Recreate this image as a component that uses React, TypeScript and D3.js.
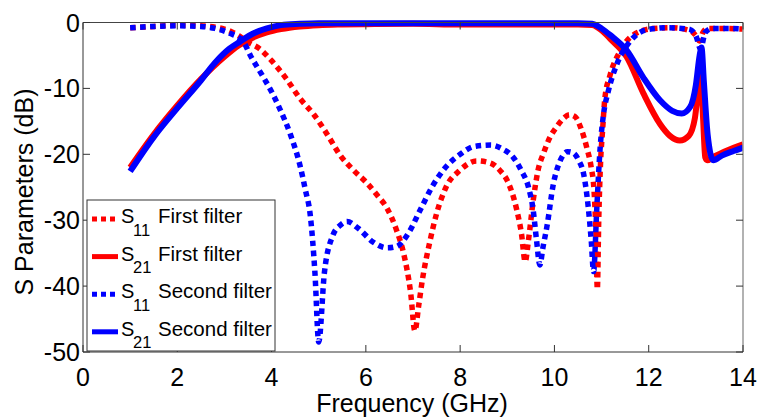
import React from "react";
import * as d3 from "d3";

// frequency (GHz) / dB values
const s11FirstX = [1, 1.5, 2, 2.5, 3, 3.3, 3.5, 3.75, 4.0, 4.3, 4.6, 4.9, 5.2, 5.45, 5.75, 6.0, 6.25, 6.45, 6.65, 6.8, 6.95, 7.04, 7.12, 7.2, 7.35, 7.5, 7.7, 8.0, 8.35, 8.63, 8.85, 9.0, 9.2, 9.3, 9.38, 9.45, 9.55, 9.65, 9.77, 9.9, 10.05, 10.2, 10.32, 10.44, 10.56, 10.69, 10.78, 10.84, 10.88, 10.91, 10.94, 10.98, 11.02, 11.07, 11.18, 11.39, 11.67, 12.1, 12.5, 12.9, 13.0, 13.08, 13.15, 13.25, 13.5, 14];
const s11FirstY = [-0.8, -0.6, -0.4, -0.5, -1.0, -2.0, -3.0, -4.0, -5.8, -8.4, -11.5, -14, -17.2, -20.1, -22.5, -24.2, -26.3, -28.2, -31.5, -35, -41, -46.8, -43, -39, -33.5, -29, -25, -22.4, -21, -21.3, -22.5, -24, -28.4, -32, -36.3, -33, -27, -22.5, -19.8, -17.5, -15.8, -14.5, -14, -14.3, -16, -19.1, -22, -25.5, -32, -40.5, -30, -21, -16.5, -11.5, -8, -4.4, -1.9, -0.9, -0.8, -1.3, -2, -2.8, -1.5, -0.9, -0.9, -1.0];

const s21FirstX = [1, 1.5, 2, 2.5, 3, 3.3, 3.6, 3.9, 4.2, 4.6, 5, 5.5, 6, 7, 8, 9, 10, 10.5, 10.8, 11.0, 11.2, 11.53, 11.89, 12.24, 12.45, 12.66, 12.85, 12.98, 13.05, 13.1, 13.15, 13.2, 13.24, 13.4, 13.6, 13.8, 14];
const s21FirstY = [-22, -17, -12.6, -8.6, -5.2, -3.5, -2.3, -1.5, -1.0, -0.6, -0.4, -0.3, -0.25, -0.2, -0.3, -0.3, -0.3, -0.3, -0.4, -1.2, -2.6, -5.2, -10.8, -15.4, -17.2, -17.9, -17.2, -14.5, -10, -7, -14, -20.5, -20.9, -20.3, -19.6, -19, -18.5];

const s11SecondX = [1, 1.5, 2, 2.5, 2.8, 3.1, 3.4, 3.55, 3.8, 4.0, 4.2, 4.4, 4.6, 4.72, 4.82, 4.92, 5.0, 5.12, 5.3, 5.45, 5.6, 5.85, 6.15, 6.45, 6.65, 6.9, 7.15, 7.4, 7.7, 8.0, 8.3, 8.65, 8.9, 9.12, 9.3, 9.45, 9.55, 9.62, 9.69, 9.76, 9.84, 9.98, 10.12, 10.28, 10.4, 10.52, 10.62, 10.72, 10.78, 10.83, 10.9, 10.97, 11.04, 11.14, 11.32, 11.6, 11.96, 12.4, 12.85, 13.0, 13.1, 13.2, 13.35, 13.7, 14];
const s11SecondY = [-0.8, -0.6, -0.5, -0.6, -0.9, -1.6, -2.9, -5.0, -8, -10.5, -13.5, -17, -21.6, -25.5, -29.2, -38, -48.5, -38, -32.3, -30.8, -30.2, -31.3, -33.3, -34.2, -34, -32, -28.5, -25, -21.9, -20, -18.8, -18.6, -19.2, -20.4, -22.5, -25, -28.5, -33, -36.8, -34, -31, -24.4, -21, -19.6, -19.8, -21, -23, -28.2, -33, -37.8, -28, -19, -14, -10.5, -6.4, -2.9, -1.1, -0.8, -1.0, -2, -4, -1.5, -0.9, -0.9, -1.0];

const s21SecondX = [1, 1.5, 2, 2.5, 2.8, 3.1, 3.33, 3.6, 3.9, 4.2, 4.6, 5, 6, 7, 8, 9, 10, 10.5, 10.8, 11.0, 11.2, 11.53, 11.89, 12.24, 12.5, 12.7, 12.88, 13.0, 13.08, 13.12, 13.17, 13.25, 13.37, 13.55, 13.8, 14];
const s21SecondY = [-22.6, -17.4, -13.0, -8.8, -6.1, -4.0, -2.9, -1.7, -0.9, -0.4, -0.2, -0.1, -0.1, -0.1, -0.1, -0.1, -0.1, -0.1, -0.2, -0.9, -2.0, -4.2, -8.4, -11.8, -13.4, -13.8, -12.8, -9.5, -5, -3.8, -9, -17, -20.9, -20.2, -19.5, -19];

const xTicks = [0, 2, 4, 6, 8, 10, 12, 14];
const yTicks = [-50, -40, -30, -20, -10, 0];

const series = [
  { label: "First filter", sub: "11", xs: s11FirstX, ys: s11FirstY, color: "#ff0000", dotted: true },
  { label: "First filter", sub: "21", xs: s21FirstX, ys: s21FirstY, color: "#ff0000", dotted: false },
  { label: "Second filter", sub: "11", xs: s11SecondX, ys: s11SecondY, color: "#0000ff", dotted: true },
  { label: "Second filter", sub: "21", xs: s21SecondX, ys: s21SecondY, color: "#0000ff", dotted: false },
];

const W = 763, H = 419;
const margin = { left: 83, right: 20, top: 22.5, bottom: 67 };
const font = "'Liberation Sans', Arial, sans-serif";

const App = () => {
  const ref = React.useRef<SVGSVGElement>(null);

  React.useEffect(() => {
    const svg = d3.select(ref.current);
    svg.selectAll("*").remove();
    const x0 = margin.left, x1 = W - margin.right, y0 = margin.top, y1 = H - margin.bottom;
    const xScale = d3.scaleLinear([0, 14], [x0, x1]);
    const yScale = d3.scaleLinear([-50, 0], [y1, y0]);

    svg.append("rect").attr("width", W).attr("height", H).attr("fill", "#fff");

    svg.append("defs").append("clipPath").attr("id", "plotclip")
      .append("rect").attr("x", x0).attr("y", y0 - 3).attr("width", x1 - x0).attr("height", y1 - y0 + 3);

    const line = d3.line<[number, number]>()
      .x(d => xScale(d[0]))
      .y(d => yScale(d[1]))
      .curve(d3.curveMonotoneX);

    const g = svg.append("g").attr("clip-path", "url(#plotclip)");
    series.forEach(s => {
      g.append("path")
        .attr("d", line(s.xs.map((v, i) => [v, s.ys[i]] as [number, number])))
        .attr("fill", "none")
        .attr("stroke", s.color)
        .attr("stroke-width", s.dotted ? 5.5 : 6)
        .attr("stroke-dasharray", s.dotted ? "5.5,4.5" : null)
        .attr("stroke-linejoin", "round");
    });

    // box
    const tick = 7;
    svg.append("line").attr("x1", x0).attr("x2", x1).attr("y1", y0).attr("y2", y0).attr("stroke", "#444");
    svg.append("line").attr("x1", x1).attr("x2", x1).attr("y1", y0).attr("y2", y1).attr("stroke", "#999").attr("stroke-width", 1.5);
    svg.append("line").attr("x1", x0).attr("x2", x0).attr("y1", y0).attr("y2", y1).attr("stroke", "#333");
    svg.append("line").attr("x1", x0).attr("x2", x1).attr("y1", y1).attr("y2", y1).attr("stroke", "#333");

    xTicks.forEach(t => {
      const px = xScale(t);
      svg.append("line").attr("x1", px).attr("x2", px).attr("y1", y1).attr("y2", y1 - tick).attr("stroke", "#333");
      svg.append("line").attr("x1", px).attr("x2", px).attr("y1", y0).attr("y2", y0 + tick).attr("stroke", "#333");
      svg.append("text").attr("x", px).attr("y", 386).attr("text-anchor", "middle")
        .attr("font-family", font).attr("font-size", 25).text(t);
    });
    yTicks.forEach(t => {
      const py = yScale(t);
      svg.append("line").attr("x1", x0).attr("x2", x0 + tick).attr("y1", py).attr("y2", py).attr("stroke", "#333");
      svg.append("line").attr("x1", x1).attr("x2", x1 - tick).attr("y1", py).attr("y2", py).attr("stroke", "#333");
      svg.append("text").attr("x", 80).attr("y", py + 9).attr("text-anchor", "end")
        .attr("font-family", font).attr("font-size", 25).text(t);
    });

    svg.append("text").attr("x", 412).attr("y", 412).attr("text-anchor", "middle")
      .attr("font-family", font).attr("font-size", 25).text("Frequency (GHz)");
    svg.append("text").attr("transform", "translate(33,192) rotate(-90)").attr("text-anchor", "middle")
      .attr("font-family", font).attr("font-size", 25).text("S Parameters (dB)");

    // legend
    const lg = svg.append("g");
    lg.append("rect").attr("x", 87).attr("y", 200).attr("width", 188).attr("height", 151)
      .attr("fill", "#fff").attr("stroke", "#333");
    series.forEach((s, i) => {
      const ly = 219 + i * 37.6;
      lg.append("line").attr("x1", 92).attr("x2", 118).attr("y1", ly).attr("y2", ly)
        .attr("stroke", s.color).attr("stroke-width", 5)
        .attr("stroke-dasharray", s.dotted ? "5,4" : null);
      lg.append("text").attr("x", 121).attr("y", ly + 4).attr("font-family", font).attr("font-size", 20).text("S");
      lg.append("text").attr("x", 133).attr("y", ly + 16.5).attr("font-family", font).attr("font-size", 16.5).text(s.sub);
      lg.append("text").attr("x", 158).attr("y", ly + 4).attr("font-family", font).attr("font-size", 20.5).text(s.label);
    });
  }, []);

  return <svg ref={ref} width={W} height={H} style={{ position: "absolute", left: 0, top: 0 }} />;
};

export default App;
